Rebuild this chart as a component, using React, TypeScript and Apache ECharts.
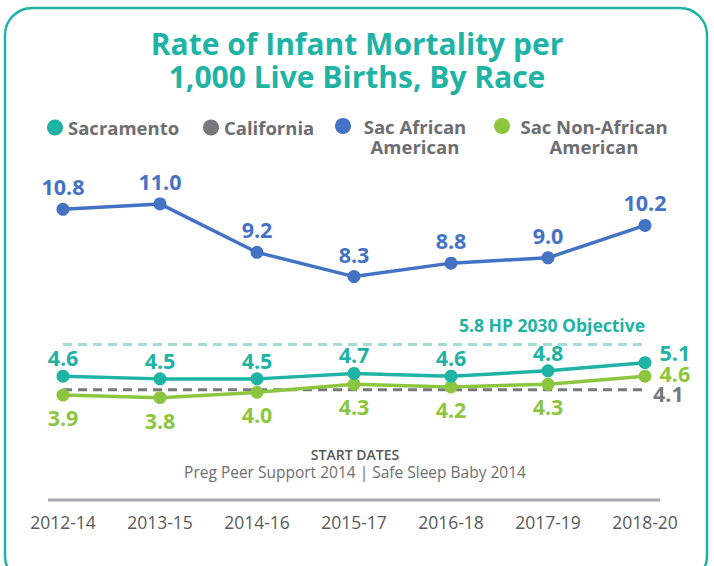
import React, { useEffect, useRef } from "react";
import * as echarts from "echarts";

const categories = ["2012-14", "2013-15", "2014-16", "2015-17", "2016-18", "2017-19", "2018-20"];
const sacramento = [4.6, 4.5, 4.5, 4.7, 4.6, 4.8, 5.1];
const california = [4.1, 4.1, 4.1, 4.1, 4.1, 4.1, 4.1];
const sacAfrican = [10.8, 11.0, 9.2, 8.3, 8.8, 9.0, 10.2];
const sacNonAfrican = [3.9, 3.8, 4.0, 4.3, 4.2, 4.3, 4.6];
const hpObjective = 5.8;
const hpLabel = "5.8 HP 2030 Objective";

const TEAL = "#1fb3a5";
const GRAY = "#77787b";
const BLUE = "#4472c4";
const GREEN = "#8cc63f";
const TEXT_GRAY = "#6d6e71";
const FONT = "'Open Sans', 'Noto Sans', sans-serif";

const lbl = (color: string, distance: number) => ({
  show: true,
  position: "top" as const,
  distance,
  color,
  fontSize: 21.5,
  lineHeight: 22,
  fontWeight: 700,
  fontFamily: FONT,
  formatter: (p: any) => Number(p.value).toFixed(1),
});

export default function App() {
  const ref = useRef<HTMLDivElement>(null);
  useEffect(() => {
    if (!ref.current) return;
    const chart = echarts.init(ref.current, undefined, { renderer: "svg" });
    const legendText = {
      color: TEXT_GRAY,
      fontSize: 18.5,
      fontWeight: 700,
      fontFamily: FONT,
    };
    const twoLine = (w: number) => ({
      ...legendText,
      lineHeight: 20,
      padding: [20, 0, 0, 0],
      rich: {
        c: { width: w, align: "center", color: TEXT_GRAY, fontSize: 18.5, fontWeight: 700, fontFamily: FONT, lineHeight: 20 },
      },
    });
    const lastRight = (arr: number[], dy: number) =>
      arr.map((v, i) =>
        i === arr.length - 1
          ? { value: v, label: { position: "right", distance: 8, offset: [0, dy] } }
          : v
      );
    chart.setOption({
      animation: false,
      title: {
        text: "Rate of Infant Mortality per\n1,000 Live Births, By Race",
        left: "center",
        top: 27,
        padding: 0,
        textStyle: {
          color: TEAL,
          fontSize: 30,
          fontWeight: 700,
          fontFamily: FONT,
          lineHeight: 33,
        },
      },
      legend: [
        { data: ["Sacramento"], left: 47, top: 118, padding: 0, icon: "circle", itemWidth: 16, itemHeight: 16, textStyle: legendText },
        { data: ["California"], left: 203, top: 118, padding: 0, icon: "circle", itemWidth: 16, itemHeight: 16, textStyle: legendText },
        {
          data: ["Sac African American"], left: 335, top: 96, padding: 0, icon: "circle", itemWidth: 16, itemHeight: 16,
          textStyle: twoLine(118),
          formatter: () => "{c|Sac African}\n{c|American}",
        },
        {
          data: ["Sac Non-African American"], left: 494, top: 96, padding: 0, icon: "circle", itemWidth: 16, itemHeight: 16,
          textStyle: twoLine(158),
          formatter: () => "{c|Sac Non-African}\n{c|American}",
        },
      ],
      grid: { left: 63, right: 69, top: 177, bottom: 66 },
      xAxis: {
        type: "category",
        data: categories,
        boundaryGap: false,
        axisLine: { show: false },
        axisTick: { show: false },
        splitLine: { show: false },
        axisLabel: { color: "#58595b", fontSize: 17.5, fontFamily: FONT, margin: 13 },
      },
      yAxis: { type: "value", min: 0, max: 12, show: false, splitLine: { show: false } },
      graphic: [
        {
          type: "rect",
          shape: { x: 5, y: 8, width: 702, height: 575, r: 27 },
          style: { fill: "none", stroke: TEAL, lineWidth: 2.5 },
          silent: true,
        },
        {
          type: "line",
          shape: { x1: 48, y1: 500, x2: 660, y2: 500 },
          style: { stroke: "#a7a9ac", lineWidth: 3 },
          silent: true,
        },
        {
          type: "text",
          x: 355,
          y: 454,
          style: { text: "START DATES", fill: "#58595b", fontSize: 14, fontWeight: 600, fontFamily: FONT, align: "center", verticalAlign: "middle" },
        },
        {
          type: "text",
          x: 355,
          y: 472,
          style: { text: "Preg Peer Support 2014 | Safe Sleep Baby 2014", fill: "#6d6e71", fontSize: 15.5, fontFamily: FONT, align: "center", verticalAlign: "middle" },
        },
      ],
      series: [
        {
          name: "California",
          type: "line",
          data: california,
          color: GRAY,
          symbol: "none",
          lineStyle: { color: GRAY, width: 3, type: [9, 6] },
          endLabel: {
            show: true,
            color: GRAY,
            fontSize: 21.5,
            lineHeight: 22,
            fontWeight: 700,
            fontFamily: FONT,
            distance: 8,
            offset: [0, 4],
            formatter: (p: any) => Number(p.value).toFixed(1),
          },
          z: 1,
        },
        {
          name: "Sacramento",
          type: "line",
          data: lastRight(sacramento, -10),
          color: TEAL,
          symbol: "circle",
          symbolSize: 13,
          lineStyle: { color: TEAL, width: 3.5 },
          itemStyle: { color: TEAL },
          label: lbl(TEAL, 1),
          markLine: {
            silent: true,
            symbol: "none",
            data: [{ yAxis: hpObjective }],
            lineStyle: { color: "#a3dcd6", width: 3, type: [9, 6] },
            label: {
              show: true,
              position: "insideEndTop",
              formatter: hpLabel,
              color: TEAL,
              fontSize: 17.5,
              lineHeight: 18,
              fontWeight: 700,
              fontFamily: FONT,
              distance: [0, 10],
            },
          },
          z: 3,
        },
        {
          name: "Sac African American",
          type: "line",
          data: sacAfrican,
          color: BLUE,
          symbol: "circle",
          symbolSize: 13,
          lineStyle: { color: BLUE, width: 3.5 },
          itemStyle: { color: BLUE },
          label: lbl(BLUE, 5),
          z: 3,
        },
        {
          name: "Sac Non-African American",
          type: "line",
          data: lastRight(sacNonAfrican, -3),
          color: GREEN,
          symbol: "circle",
          symbolSize: 13,
          lineStyle: { color: GREEN, width: 3.5 },
          itemStyle: { color: GREEN },
          label: { ...lbl(GREEN, 5), position: "bottom" },
          z: 2,
        },
      ],
    });
    return () => chart.dispose();
  }, []);
  return (
    <div
      ref={ref}
      style={{ position: "fixed", left: 0, top: 0, width: 714, height: 566, background: "#fff" }}
    />
  );
}
